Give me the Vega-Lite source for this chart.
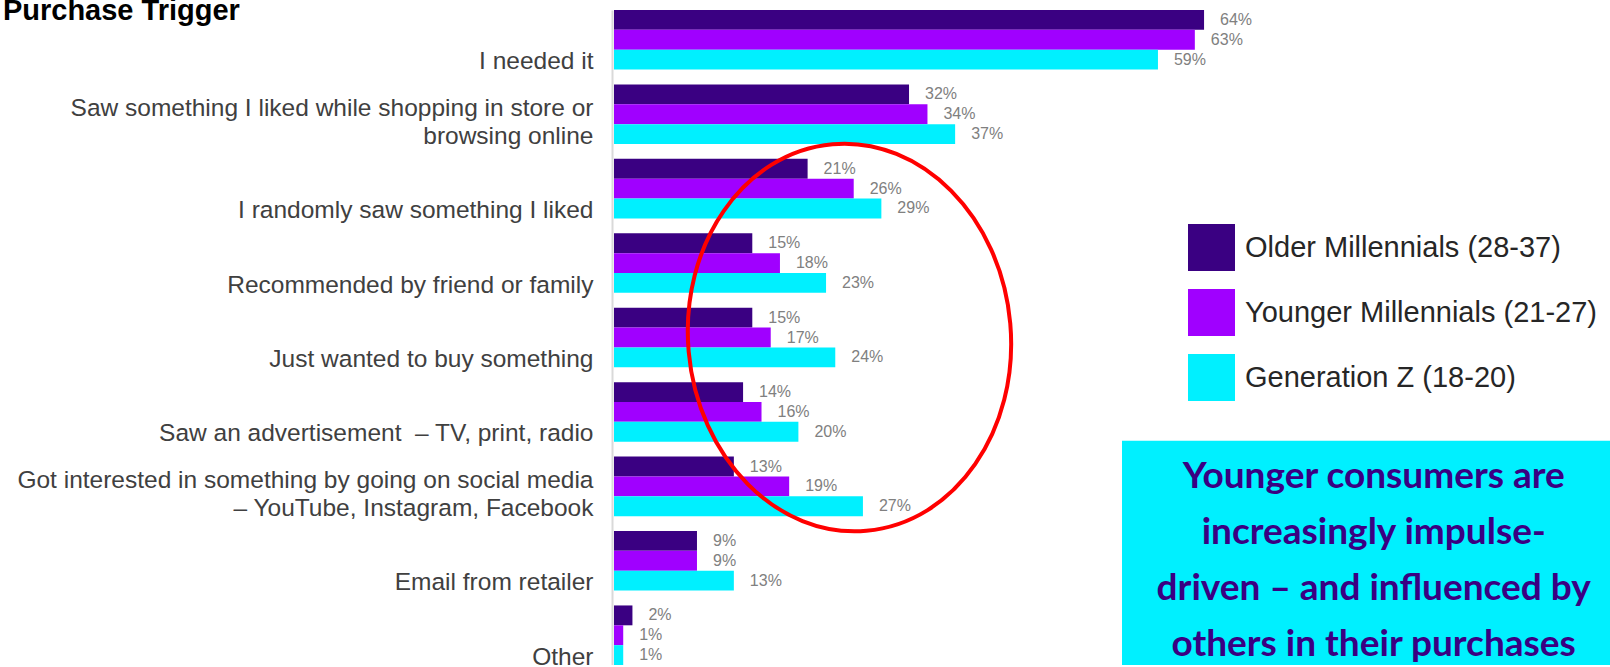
{
  "$schema": "https://vega.github.io/schema/vega-lite/v6.json",
  "width": 996,
  "height": 655,
  "autosize": {"type": "none"},
  "padding": {"left": 614, "top": 10, "right": 0, "bottom": 0},
  "background": "white",
  "config": {"view": {"stroke": null}, "font": "Liberation Sans"},
  "title": {"text": "Purchase Trigger", "anchor": "start", "frame": "bounds", "orient": "top", "offset": 0, "baseline": "alphabetic", "dy": 39, "dx": -14, "font": "Liberation Sans", "fontSize": 29, "fontWeight": "bold", "color": "#000000"},
  "datasets": {
    "bars": [
      {"category": "I needed it", "group": "Older Millennials (28-37)", "value": 0.64},
      {"category": "I needed it", "group": "Younger Millennials (21-27)", "value": 0.63},
      {"category": "I needed it", "group": "Generation Z (18-20)", "value": 0.59},
      {"category": "Saw something I liked while shopping in store or|browsing online", "group": "Older Millennials (28-37)", "value": 0.32},
      {"category": "Saw something I liked while shopping in store or|browsing online", "group": "Younger Millennials (21-27)", "value": 0.34},
      {"category": "Saw something I liked while shopping in store or|browsing online", "group": "Generation Z (18-20)", "value": 0.37},
      {"category": "I randomly saw something I liked\u00a0", "group": "Older Millennials (28-37)", "value": 0.21},
      {"category": "I randomly saw something I liked\u00a0", "group": "Younger Millennials (21-27)", "value": 0.26},
      {"category": "I randomly saw something I liked\u00a0", "group": "Generation Z (18-20)", "value": 0.29},
      {"category": "Recommended by friend or family", "group": "Older Millennials (28-37)", "value": 0.15},
      {"category": "Recommended by friend or family", "group": "Younger Millennials (21-27)", "value": 0.18},
      {"category": "Recommended by friend or family", "group": "Generation Z (18-20)", "value": 0.23},
      {"category": "Just wanted to buy something", "group": "Older Millennials (28-37)", "value": 0.15},
      {"category": "Just wanted to buy something", "group": "Younger Millennials (21-27)", "value": 0.17},
      {"category": "Just wanted to buy something", "group": "Generation Z (18-20)", "value": 0.24},
      {"category": "Saw an advertisement \u00a0– TV, print, radio", "group": "Older Millennials (28-37)", "value": 0.14},
      {"category": "Saw an advertisement \u00a0– TV, print, radio", "group": "Younger Millennials (21-27)", "value": 0.16},
      {"category": "Saw an advertisement \u00a0– TV, print, radio", "group": "Generation Z (18-20)", "value": 0.20},
      {"category": "Got interested in something by going on social media|– YouTube, Instagram, Facebook", "group": "Older Millennials (28-37)", "value": 0.13},
      {"category": "Got interested in something by going on social media|– YouTube, Instagram, Facebook", "group": "Younger Millennials (21-27)", "value": 0.19},
      {"category": "Got interested in something by going on social media|– YouTube, Instagram, Facebook", "group": "Generation Z (18-20)", "value": 0.27},
      {"category": "Email from retailer", "group": "Older Millennials (28-37)", "value": 0.09},
      {"category": "Email from retailer", "group": "Younger Millennials (21-27)", "value": 0.09},
      {"category": "Email from retailer", "group": "Generation Z (18-20)", "value": 0.13},
      {"category": "Other", "group": "Older Millennials (28-37)", "value": 0.02},
      {"category": "Other", "group": "Younger Millennials (21-27)", "value": 0.01},
      {"category": "Other", "group": "Generation Z (18-20)", "value": 0.01}
    ],
    "ellipse": [
      {"category": "Just wanted to buy something", "value": 0.2554}
    ],
    "box": [
      {"category": "Email from retailer", "value": 0.551, "value2": 1.13}
    ],
    "note": [
      {"category": "Got interested in something by going on social media|– YouTube, Instagram, Facebook", "value": 0.824, "note": "Younger consumers are|increasingly impulse-|driven – and influenced by|others in their purchases"}
    ]
  },
  "encoding": {
    "y": {
      "field": "category", "type": "nominal",
      "sort": ["I needed it", "Saw something I liked while shopping in store or|browsing online", "I randomly saw something I liked\u00a0", "Recommended by friend or family", "Just wanted to buy something", "Saw an advertisement \u00a0– TV, print, radio", "Got interested in something by going on social media|– YouTube, Instagram, Facebook", "Email from retailer", "Other"],
      "scale": {"paddingInner": 0.2, "paddingOuter": 0},
      "axis": {
        "title": null, "ticks": false, "tickSize": 0, "offset": 2,
        "domainColor": "#d9d9d9", "domainWidth": 2,
        "labelExpr": "split(indexof(datum.value, '|') >= 0 ? datum.value : '|' + datum.value, '|')",
        "labelFont": "Liberation Sans", "labelFontSize": 24.5, "labelColor": "#404040",
        "labelBaseline": "middle", "labelOffset": -5, "labelLineHeight": 27.5,
        "labelPadding": 19, "labelLimit": 800, "labelAlign": "right"
      }
    }
  },
  "layer": [
    {
      "data": {"name": "box"},
      "mark": {"type": "rect", "color": "#00f0ff", "height": 240, "clip": false},
      "encoding": {
        "x": {"field": "value", "type": "quantitative", "scale": {"domain": [0, 1.0803], "nice": false, "zero": true}, "axis": null},
        "x2": {"field": "value2"}
      }
    },
    {
      "data": {"name": "bars"},
      "mark": {"type": "bar"},
      "encoding": {
        "yOffset": {"field": "group", "type": "nominal", "sort": ["Older Millennials (28-37)", "Younger Millennials (21-27)", "Generation Z (18-20)"], "scale": {"paddingInner": 0, "paddingOuter": 0}},
        "x": {"field": "value", "type": "quantitative"},
        "color": {
          "field": "group", "type": "nominal",
          "scale": {"domain": ["Older Millennials (28-37)", "Younger Millennials (21-27)", "Generation Z (18-20)"], "range": ["#3a0082", "#a000ff", "#00f0ff"]},
          "legend": {"orient": "none", "legendX": 574, "legendY": 214, "title": null, "symbolType": "square", "symbolSize": 2209, "symbolStrokeWidth": 0, "symbolOpacity": 1, "labelFontSize": 29, "labelFont": "Liberation Sans", "labelColor": "#262626", "rowPadding": 18, "labelOffset": 10, "padding": 0, "labelLimit": 600}
        }
      }
    },
    {
      "data": {"name": "bars"},
      "mark": {"type": "text", "align": "left", "baseline": "middle", "dx": 16, "fontSize": 16, "color": "#808080", "font": "Liberation Sans"},
      "encoding": {
        "yOffset": {"field": "group", "type": "nominal", "sort": ["Older Millennials (28-37)", "Younger Millennials (21-27)", "Generation Z (18-20)"]},
        "x": {"field": "value", "type": "quantitative"},
        "text": {"field": "value", "type": "quantitative", "format": ".0%"}
      }
    },
    {
      "data": {"name": "ellipse"},
      "mark": {"type": "point", "shape": "M -0.0872 -0.9962 A 0.832 1 -5 1 1 0.0872 0.9962 A 0.832 1 -5 1 1 -0.0872 -0.9962 Z", "size": 150544, "filled": false, "stroke": "#ff0000", "strokeWidth": 4, "opacity": 1},
      "encoding": {
        "x": {"field": "value", "type": "quantitative"}
      }
    },
    {
      "data": {"name": "note"},
      "mark": {"type": "text", "align": "center", "baseline": "middle", "dy": -9, "lineBreak": "|", "font": "Lato", "fontWeight": "bold", "fontSize": 37, "lineHeight": 56, "color": "#3a0082"},
      "encoding": {
        "x": {"field": "value", "type": "quantitative"},
        "text": {"field": "note"}
      }
    }
  ]
}
